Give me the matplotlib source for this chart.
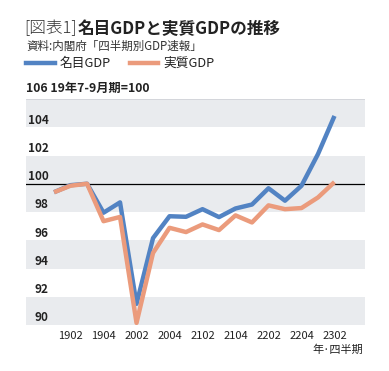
import matplotlib
matplotlib.use("Agg")
import matplotlib.pyplot as plt
import matplotlib.transforms as mtransforms

plt.rcParams['font.family'] = ['Noto Sans CJK JP', 'DejaVu Sans']

quarters = ["1901", "1902", "1903", "1904", "2001", "2002", "2003", "2004",
            "2101", "2102", "2103", "2104", "2201", "2202", "2203", "2204",
            "2301", "2302"]
nominal = [99.4, 99.9, 100.0, 97.95, 98.68, 91.5, 96.15, 97.7, 97.66, 98.2,
           97.64, 98.25, 98.53, 99.68, 98.8, 99.86, 102.1, 104.8]
real = [99.4, 99.86, 100.0, 97.35, 97.65, 90.15, 95.1, 96.88, 96.58, 97.12,
        96.72, 97.76, 97.26, 98.47, 98.2, 98.28, 99.03, 100.12]
xtick_labels = ["1902", "1904", "2002", "2004", "2102", "2104", "2202", "2204", "2302"]
ytick_values = [90, 92, 94, 96, 98, 100, 102, 104]
series_names = ["名目GDP", "実質GDP"]

blue = "#5283c3"
orange = "#eb9b7c"
band = "#e9ebee"

W, H = 389, 371
fig = plt.figure(figsize=(W / 100, H / 100), dpi=100)
fig.patch.set_facecolor("white")

left, right, top, bottom = 26, 365, 99, 325
ax = fig.add_axes([left / W, 1 - bottom / H, (right - left) / W, (bottom - top) / H])
ax.set_xlim(-1.7, 18.85)
ax.set_ylim(90, 106)
for s in ax.spines.values():
    s.set_visible(False)
ax.set_xticks([])
ax.set_yticks([])

# bands
for lo, hi in [(90, 92), (94, 96), (98, 100), (100, 102), (104, 106)]:
    ax.axhspan(lo, hi, color=band, lw=0, zorder=0)
ax.axhline(106, color="#d0d3d8", lw=0.6, zorder=1)
ax.axhline(100, color="black", lw=0.9, zorder=2)

xs = list(range(len(quarters)))
ax.plot(xs, nominal, color=blue, lw=3.2, solid_capstyle="butt", zorder=3)
ax.plot(xs, real, color=orange, lw=3.2, solid_capstyle="butt", zorder=4)

# y tick labels (inside, above gridlines)
trans_y = mtransforms.blended_transform_factory(fig.transFigure, ax.transData)
for v in ytick_values:
    ax.text(48.5 / W, v + 0.5, str(v), transform=trans_y, ha="right", va="center",
            fontsize=8.5, fontweight="bold", color="#222222", zorder=5)

# x tick labels
trans_x = mtransforms.blended_transform_factory(ax.transData, fig.transFigure)
for lab in xtick_labels:
    i = quarters.index(lab)
    fig.text(0, 0, lab, transform=trans_x, fontsize=8, color="#222222",
             ha="center", va="center").set_position((i, 1 - 336 / H))
fig.text(363 / W, 1 - 350 / H, "年·四半期", fontsize=8, color="#222222",
         ha="right", va="center")

# header
fig.text(26 / W, 1 - 88 / H, "106 19年7-9月期=100", fontsize=8.8,
         fontweight="bold", color="#222222", ha="left", va="center")

# title
t1 = fig.text(24 / W, 1 - 29 / H, "[図表1]", fontsize=12, fontweight="light",
              color="#333333", ha="left", va="center")
fig.canvas.draw()
ann = fig.text(0, 0, "名目GDPと実質GDPの推移", fontsize=12, fontweight="bold",
               color="#222222", ha="left", va="center")
bb = t1.get_window_extent()
inv = fig.transFigure.inverted()
x1 = inv.transform((bb.x1, 0))[0]
ann.set_position((x1 + 1 / W, 1 - 29 / H))

fig.text(26 / W, 1 - 46 / H, "資料:内閣府「四半期別GDP速報」", fontsize=8.3,
         color="#333333", ha="left", va="center")

# legend
ly = 1 - 63 / H
fig.add_artist(plt.Line2D([26 / W, 55 / W], [ly, ly], color=blue, lw=3.2,
                          transform=fig.transFigure))
fig.text(60 / W, ly, series_names[0], fontsize=9.2, color="#222222", ha="left", va="center")
fig.add_artist(plt.Line2D([130 / W, 158 / W], [ly, ly], color=orange, lw=3.2,
                          transform=fig.transFigure))
fig.text(163 / W, ly, series_names[1], fontsize=9.2, color="#222222", ha="left", va="center")

fig.savefig("out.png", dpi=100, facecolor="white")
